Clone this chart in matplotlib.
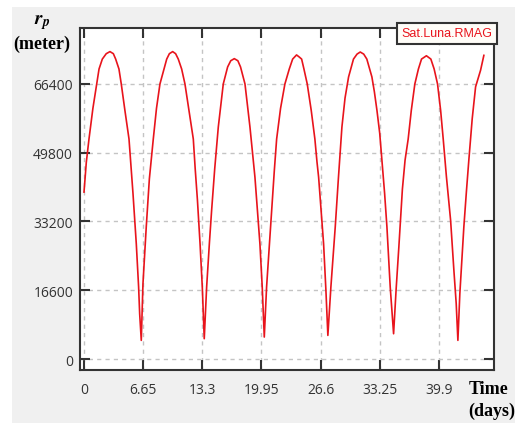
import matplotlib
matplotlib.use("Agg")
import matplotlib.pyplot as plt
from matplotlib.patches import Rectangle

# values (time in days, r_p in meter)
t_days = [0.0, 0.26, 0.56, 1.0, 1.43, 1.69, 2.06, 2.5, 2.92, 3.3, 3.56, 3.93, 4.19, 4.6,
          5.06, 5.3, 5.51, 5.88, 6.14, 6.26, 6.44,
          6.63, 7.0, 7.35, 7.79, 8.15, 8.54, 8.99, 9.3, 9.6, 9.97, 10.3, 10.6, 10.98, 11.35,
          11.8, 12.29, 12.5, 12.75, 13.05, 13.3, 13.52,
          13.79, 14.1, 14.35, 14.7, 15.1, 15.66, 16.15, 16.5, 16.9, 17.3, 17.6, 18.1, 18.66,
          19.0, 19.22, 19.5, 19.78, 20.04, 20.27,
          20.53, 21.1, 21.4, 21.66, 22.1, 22.59, 23.08, 23.46, 23.9, 24.2, 24.47, 24.73,
          25.1, 25.55, 25.96, 26.2, 26.38, 26.65, 26.94, 27.2, 27.42,
          27.76, 28.25, 28.6, 29.0, 29.35, 29.75, 30.3, 30.7, 31.06, 31.45, 31.8, 32.37,
          32.65, 32.94, 33.25, 33.5, 33.8, 34.06, 34.43, 34.81,
          35.1, 35.4, 35.8, 36.1, 36.45, 36.8, 37.2, 37.6, 37.95, 38.5, 39.0, 39.37, 39.75,
          40.1, 40.39, 40.75, 41.22, 41.59, 41.85, 42.04,
          42.26, 42.71, 43.0, 43.27, 43.65, 44.03, 44.59, 44.96]
rmag = [40300, 47500, 53100, 60500, 66400, 70000, 72400, 73700, 74200, 73700, 72400, 70000,
        66400, 60000, 53100, 46000, 39900, 27800, 17400, 10900, 4500,
        18200, 31900, 43500, 53100, 60500, 66400, 70000, 72400, 73700, 74200, 73700, 72400,
        70000, 66400, 60000, 53100, 46000, 38500, 27800, 17400, 4900,
        17400, 28000, 35900, 46000, 56000, 66400, 70500, 72000, 72500, 72000, 70500, 66400,
        56000, 48500, 43900, 36000, 27800, 17400, 5300,
        17400, 35900, 45500, 53100, 60500, 66400, 70000, 72400, 73400, 72900, 72400, 70000,
        66400, 60000, 53100, 47500, 43900, 36000, 27800, 16600, 5700,
        17400, 31900, 43500, 56000, 63000, 68100, 72400, 73600, 74100, 73600, 72400, 68100,
        64500, 60000, 54500, 48000, 40000, 31900, 17400, 6100,
        17000, 27000, 41000, 48000, 53100, 60000, 66400, 70000, 72400, 73200, 72400, 70000,
        66400, 60000, 53100, 44000, 33500, 21400, 13400, 4500,
        15800, 31900, 40500, 48000, 58000, 65700, 69700, 73300]

xticks = [0, 6.65, 13.3, 19.95, 26.6, 33.25, 39.9]
xtick_labels = ["0", "6.65", "13.3", "19.95", "26.6", "33.25", "39.9"]
yticks = [0, 16600, 33200, 49800, 66400]

W, H = 515, 427
fig = plt.figure(figsize=(W / 100, H / 100), dpi=100, facecolor="white")
fig.patches.append(Rectangle((12 / W, 1 - 424 / H), (W - 12) / W, 416 / H,
                             transform=fig.transFigure, facecolor="#f0f0f0",
                             edgecolor="none", zorder=-10))

ax = fig.add_axes([80 / W, 1 - 371 / H, 414 / W, 342 / H])
ax.set_facecolor("white")
ax.plot(t_days, rmag, color="#e8141c", lw=1.2, label="Sat.Luna.RMAG",
        solid_joinstyle="round")

ax.set_xlim(-0.45, 46.1)
ax.set_ylim(-2650, 79900)
ax.set_xticks(xticks)
ax.set_xticklabels(xtick_labels)
ax.set_yticks(yticks)
ax.grid(True, color="#c4c4c4", linestyle=(0, (3, 3)), lw=1)

for s in ax.spines.values():
    s.set_color("#333333")
    s.set_linewidth(1.5)
ax.tick_params(direction="in", length=7, width=1.5, color="#333333",
               top=True, right=True, labelsize=10, labelcolor="#333333")
ax.tick_params(axis="y", pad=5)
ax.tick_params(axis="x", pad=9)
for lab in ax.get_xticklabels() + ax.get_yticklabels():
    lab.set_family("Open Sans")

leg = ax.legend(loc="upper right", bbox_to_anchor=(497 / W, 1 - 24 / H),
                bbox_transform=fig.transFigure, borderaxespad=0, handlelength=0,
                handletextpad=0, labelcolor="#e8141c", fancybox=False,
                prop={"family": "Liberation Sans", "size": 9}, borderpad=0.35,
                framealpha=1)
leg.get_frame().set_edgecolor("#333333")
leg.get_frame().set_linewidth(1.5)
leg.get_frame().set_facecolor("#fffdf8")
for h in leg.legend_handles:
    h.set_visible(False)

plt.rcParams["mathtext.fontset"] = "stix"
fig.text(42 / W, 1 - 22 / H, r"$\mathbfit{r}_{\mathbfit{p}}$", fontsize=14,
         ha="center", va="center")
fig.text(42 / W, 1 - 44 / H, "(meter)", family="Liberation Serif", weight="bold",
         fontsize=13, ha="center", va="center")
fig.text(489 / W, 1 - 390 / H, "Time", family="Liberation Serif", weight="bold",
         fontsize=13, ha="center", va="center")
fig.text(492 / W, 1 - 411 / H, "(days)", family="Liberation Serif", weight="bold",
         fontsize=13, ha="center", va="center")

fig.savefig("out.png", dpi=100)
